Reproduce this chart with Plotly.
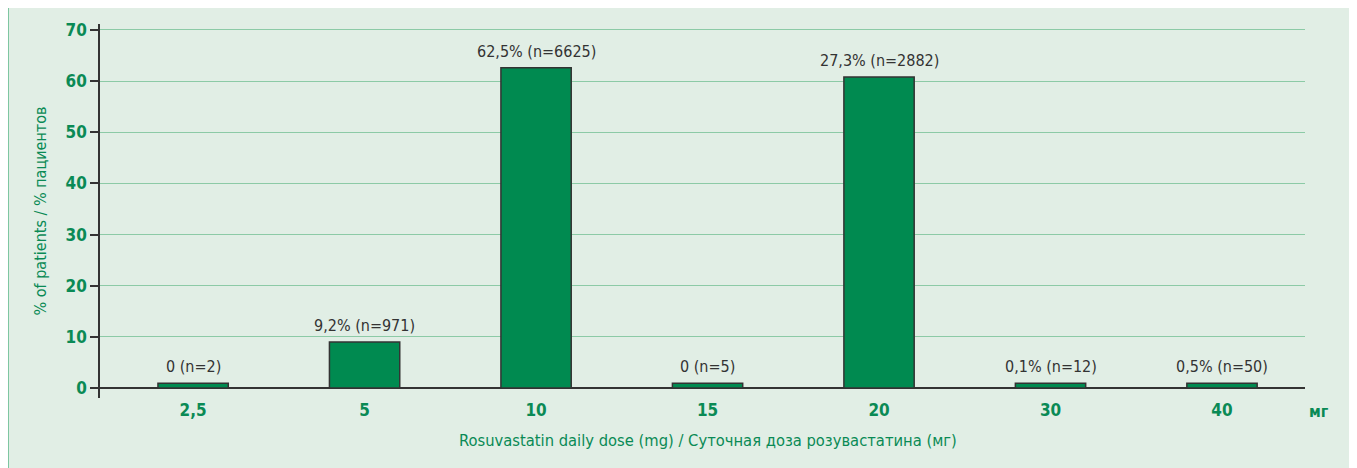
import plotly.graph_objects as go

categories = ["2,5", "5", "10", "15", "20", "30", "40"]
values = [0.9, 9.0, 62.6, 0.9, 60.8, 0.9, 0.9]
bar_labels = ["0 (n=2)", "9,2% (n=971)", "62,5% (n=6625)", "0 (n=5)",
              "27,3% (n=2882)", "0,1% (n=12)", "0,5% (n=50)"]
y_ticks = [0, 10, 20, 30, 40, 50, 60, 70]

GREEN_TXT = "#0a8a55"
FRAME = "#1a9a60"
FONT = "Liberation Sans Narrow, DejaVu Sans Condensed, Arial Narrow, sans-serif"

fig = go.Figure()
fig.add_trace(go.Bar(
    x=categories, y=values, width=0.41,
    marker=dict(color="#008a50", line=dict(color="#333333", width=1.5)),
    hoverinfo="skip",
))

for i, (v, t) in enumerate(zip(values, bar_labels)):
    fig.add_annotation(x=i, y=v, text=t, showarrow=False, yanchor="bottom",
                       yshift=5, font=dict(family=FONT, size=16, color="#333333"))

# panel background and frame (page body adds an 8px offset)
W, H = 1349, 460
L, R, T, B = 92, 52, 16, 70
pw, ph = W - L - R, H - T - B
fx0, fx1 = -L / pw, (W + 20 - L) / pw
fy0, fy1 = -(B + 20) / ph, (H - T - 2) / ph
fig.add_shape(type="rect", xref="paper", yref="paper",
              x0=fx0, x1=fx1, y0=fy0, y1=fy1,
              line=dict(width=0), fillcolor="#e1eee5", layer="below")
fig.add_shape(type="line", xref="paper", yref="paper",
              x0=fx0, x1=fx1, y0=fy1, y1=fy1, line=dict(color=FRAME, width=2),
              layer="below")
fig.add_shape(type="line", xref="paper", yref="paper",
              x0=fx0, x1=fx0, y0=fy0, y1=fy1, line=dict(color="#5cb88a", width=1.5),
              layer="below")

fig.add_annotation(xref="paper", yref="paper", x=1.0, y=0.0, xanchor="left",
                   yanchor="top", xshift=2, yshift=-2, text="мг", showarrow=False,
                   font=dict(family=FONT, size=16, color=GREEN_TXT, weight="bold"))
fig.add_annotation(xref="paper", yref="paper", x=0.5046, y=0.0, xanchor="center",
                   yanchor="top", yshift=-31,
                   text="Rosuvastatin daily dose (mg) / Суточная доза розувастатина (мг)",
                   showarrow=False, font=dict(family=FONT, size=16.4, color=GREEN_TXT))

fig.update_layout(
    width=W, height=H,
    margin=dict(l=L, r=R, t=T, b=B),
    paper_bgcolor="white", plot_bgcolor="rgba(0,0,0,0)",
    showlegend=False,
    font=dict(family=FONT),
    xaxis=dict(type="category", range=[-0.543, 6.484], showgrid=False,
               showline=False, ticks="",
               tickfont=dict(size=17, color=GREEN_TXT, weight="bold"),
               fixedrange=True),
    yaxis=dict(range=[-1.96, 71.17], tickvals=y_ticks, showgrid=True,
               gridcolor="#8ccaa6", gridwidth=1.2, zeroline=True,
               zerolinecolor="#333333", zerolinewidth=1.5,
               showline=True, linecolor="#333333", linewidth=1.5,
               ticks="outside", ticklen=8, tickcolor="#333333", tickwidth=1.5,
               tickfont=dict(size=17, color=GREEN_TXT, weight="bold"),
               title=dict(text="% of patients / % пациентов", standoff=15,
                          font=dict(size=16, color=GREEN_TXT))),
)

fig.write_html("out.html")
